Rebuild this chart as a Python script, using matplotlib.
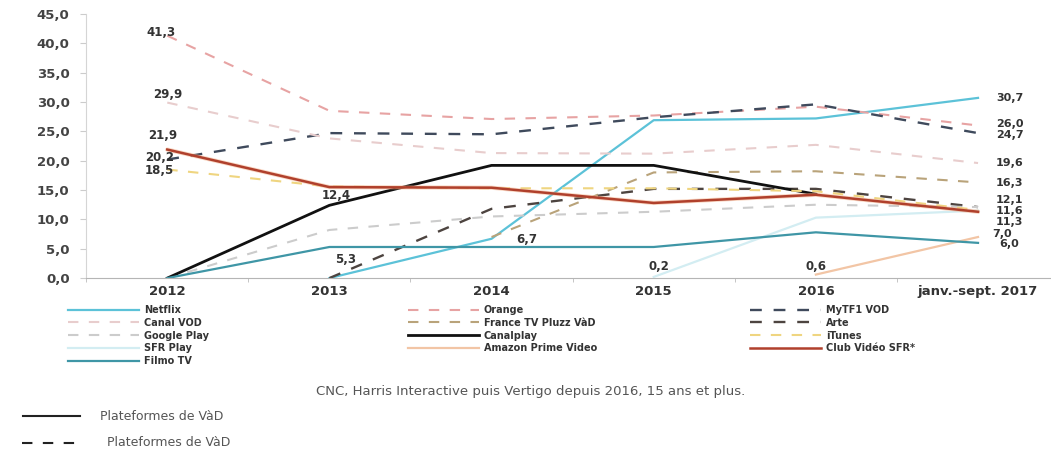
import numpy as np
import matplotlib
matplotlib.use("Agg")
import matplotlib.pyplot as plt
from matplotlib.lines import Line2D

nan = np.nan
categories = ["2012", "2013", "2014", "2015", "2016", "janv.-sept. 2017"]

series_names = ["Netflix", "Orange", "MyTF1 VOD", "Canal VOD", "France TV Pluzz VàD", "Arte",
                "Google Play", "Canalplay", "iTunes", "SFR Play", "Amazon Prime Video",
                "Club Vidéo SFR*", "Filmo TV"]

netflix   = [nan, 0.0, 6.7, 26.9, 27.2, 30.7]
orange    = [41.3, 28.5, 27.1, 27.7, 29.2, 26.0]
mytf1     = [20.2, 24.7, 24.5, 27.4, 29.6, 24.7]
canal_vod = [29.9, 23.8, 21.3, 21.2, 22.7, 19.6]
francetv  = [nan, nan, 7.0, 18.0, 18.2, 16.3]
arte      = [nan, 0.0, 11.8, 15.2, 15.2, 12.1]
google    = [0.0, 8.2, 10.5, 11.3, 12.5, 12.1]
canalplay = [0.0, 12.4, 19.2, 19.2, 14.3, nan]
itunes    = [18.5, 15.6, 15.3, 15.3, 14.8, 11.6]
sfr_play  = [nan, nan, nan, 0.2, 10.3, 11.5]
amazon    = [nan, nan, nan, nan, 0.6, 7.0]
club_sfr  = [21.9, 15.5, 15.4, 12.8, 14.2, 11.3]
filmo     = [0.0, 5.3, 5.3, 5.3, 7.8, 6.0]

values = [netflix, orange, mytf1, canal_vod, francetv, arte, google, canalplay,
          itunes, sfr_play, amazon, club_sfr, filmo]

colors = ["#5cc2d8", "#e7a3a3", "#3f4a5c", "#e8cdcd", "#b9a37a", "#4d4440",
          "#cccccc", "#111111", "#efd580", "#d3edf2", "#f2c5a5", "#b0402c", "#3f96a6"]
dashed = [False, True, True, True, True, True, True, False, True, False, False, False, False]
widths = [1.6, 1.5, 1.7, 1.5, 1.5, 1.7, 1.5, 2.0, 1.5, 1.6, 1.6, 1.8, 1.6]

# data labels (text, x position, y position)
label_texts = ["41,3", "29,9", "21,9", "20,2", "18,5", "12,4", "5,3", "6,7", "0,2", "0,6",
               "30,7", "26,0", "24,7", "19,6", "16,3", "12,1", "11,6", "11,3", "7,0", "6,0"]
label_x = [-0.04, 0.0, -0.03, -0.05, -0.05, 1.04, 1.1, 2.22, 3.03, 4.0,
           5.11, 5.11, 5.11, 5.11, 5.11, 5.11, 5.11, 5.11, 5.09, 5.13]
label_y = [41.9, 31.3, 24.3, 20.6, 18.4, 14.0, 3.2, 6.6, 1.9, 1.9,
           30.6, 26.2, 24.4, 19.6, 16.2, 13.3, 11.4, 9.5, 7.5, 5.8]

yticks = [0, 5, 10, 15, 20, 25, 30, 35, 40, 45]

fig = plt.figure(figsize=(10.51, 4.5), dpi=100)
ax = fig.add_axes([0.082, 0.382, 0.918, 0.587])

x = np.arange(len(categories))
handles = []
for name, vals, c, d, w in zip(series_names, values, colors, dashed, widths):
    ls = (0, (5, 5)) if d else "-"
    if name == "Club Vidéo SFR*":
        ax.plot(x, vals, color="#f4b088", lw=w + 1.2, alpha=0.5, solid_capstyle="round")
    h, = ax.plot(x, vals, color=c, lw=w, linestyle=ls, label=name)
    handles.append(h)

for i, (t, lx, ly) in enumerate(zip(label_texts, label_x, label_y)):
    ha = "left" if lx > 5 else "center"
    fs = 8 if lx > 5 else 8.5
    ax.text(lx, ly, t, ha=ha, va="center", fontsize=fs, fontweight="bold", color="#333333")

ax.set_xlim(-0.49, 5.45)
ax.set_ylim(0, 45)
ax.set_yticks(yticks)
ax.set_yticklabels([f"{v:.1f}".replace(".", ",") for v in yticks],
                   fontsize=9.5, fontweight="bold", color="#444444")
ax.set_xticks(x)
ax.set_xticklabels(categories, fontsize=9.5, fontweight="bold", color="#333333")
ax.set_xticks(np.arange(-0.5, 5.5, 1.0), minor=True)
ax.tick_params(axis="x", which="major", length=0, pad=5)
ax.tick_params(axis="x", which="minor", length=3, color="#bbbbbb")
ax.tick_params(axis="y", length=4, color="#cccccc", pad=8)
for s in ["top", "right"]:
    ax.spines[s].set_visible(False)
ax.spines["left"].set_color("#d5d5d5")
ax.spines["bottom"].set_color("#b5b5b5")

# legends in three columns
col_order = [[0, 3, 6, 9, 12], [1, 4, 7, 10], [2, 5, 8, 11]]
col_x = [0.065, 0.388, 0.714]
for cols, cx in zip(col_order, col_x):
    lg = fig.legend([handles[i] for i in cols], [series_names[i] for i in cols],
                    loc="upper left", bbox_to_anchor=(cx, 0.322), frameon=False,
                    prop={"size": 7, "weight": "bold"}, handlelength=7.3,
                    handletextpad=0.5, labelspacing=0.28, borderpad=0, borderaxespad=0)
    for txt in lg.get_texts():
        txt.set_color("#333333")

fig.text(0.505, 1 - 391 / 450, "CNC, Harris Interactive puis Vertigo depuis 2016, 15 ans et plus.",
         ha="center", va="center", fontsize=9.5, color="#555555")

fig.add_artist(Line2D([23 / 1051, 80 / 1051], [1 - 416 / 450] * 2, color="#222222", lw=1.5,
                      transform=fig.transFigure))
fig.text(100 / 1051, 1 - 416 / 450, "Plateformes de VàD", ha="left", va="center",
         fontsize=9, color="#555555")
fig.add_artist(Line2D([22 / 1051, 80 / 1051], [1 - 443 / 450] * 2, color="#222222", lw=1.5,
                      linestyle=(0, (5, 5)), transform=fig.transFigure))
fig.text(107 / 1051, 1 - 443 / 450, "Plateformes de VàD", ha="left", va="center",
         fontsize=9, color="#555555")

fig.savefig("out.png", dpi=100, facecolor="white")
